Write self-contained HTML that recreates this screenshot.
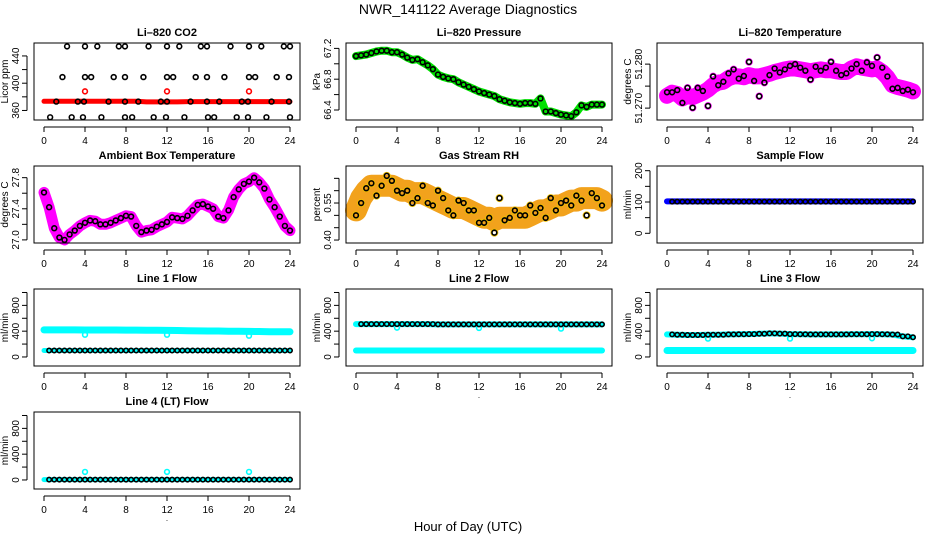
<!DOCTYPE html>
<html><head><meta charset="utf-8">
<style>
body{margin:0;background:#fff;}
svg{display:block;font-family:"Liberation Sans",sans-serif;}
</style></head>
<body>
<svg id="chart" width="936" height="540" viewBox="0 0 936 540" xmlns="http://www.w3.org/2000/svg">
<rect width="936" height="540" fill="#fff"/>
<text x="468" y="14" text-anchor="middle" font-size="14">NWR_141122  Average Diagnostics</text>
<text x="468" y="531" text-anchor="middle" font-size="13">Hour of Day (UTC)</text>
</svg>
<script>
const hours = [0,0.5,1,1.5,2,2.5,3,3.5,4,4.5,5,5.5,6,6.5,7,7.5,8,8.5,9,9.5,10,10.5,11,11.5,12,12.5,13,13.5,14,14.5,15,15.5,16,16.5,17,17.5,18,18.5,19,19.5,20,20.5,21,21.5,22,22.5,23,23.5,24];
const hourly = [0,1,2,3,4,5,6,7,8,9,10,11,12,13,14,15,16,17,18,19,20,21,22,23,24];
const xTicks = [0,4,8,12,16,20,24];

// CO2
const co2TopHours = [2.25,4.0,5.2,7.3,7.9,10.2,12.0,13.2,15.3,15.9,18.2,20.0,21.2,23.4,24.0];
const co2MidHours = [1.8,4.0,4.6,6.8,7.9,9.7,12.0,12.6,14.8,15.9,17.6,20.0,20.6,22.7,23.9];
const co2BandHours = [1.2,3.3,3.9,6.3,7.9,9.2,11.4,12.0,14.3,15.9,17.1,19.3,19.9,22.2,23.9];
const co2LowHours = [0.6,2.7,3.8,5.6,7.9,8.6,10.7,11.9,13.7,16.0,16.6,18.8,19.9,21.7,24.0];
const co2Levels = [454,409,373,350];
const co2RedBand = [373.5,373.5,373.5,373.5,373.5,373.5,373.5,373.5,373.5,373.5,372.5,372.5,372.5,372.5,373,373,373,373,373,373,373,373,373,373,373];
const co2RedHours = [4,12,20];
const co2RedValues = [388,388,388];

// Pressure
const pressure = [67.10,67.11,67.12,67.14,67.16,67.17,67.17,67.15,67.15,67.12,67.08,67.05,67.06,67.02,66.98,66.93,66.86,66.83,66.81,66.80,66.76,66.73,66.70,66.67,66.64,66.62,66.60,66.58,66.54,66.52,66.50,66.49,66.48,66.49,66.49,66.48,66.55,66.38,66.38,66.36,66.34,66.33,66.32,66.37,66.46,66.44,66.47,66.47,66.47];

// Li-820 temperature
const liTemp = [51.2736,51.2736,51.2741,51.2712,51.2746,51.2701,51.2746,51.2739,51.2705,51.2772,51.2752,51.2760,51.2779,51.2788,51.2767,51.2773,51.2805,51.2762,51.2727,51.2758,51.2775,51.2790,51.2781,51.2788,51.2796,51.2800,51.2792,51.2785,51.2765,51.2794,51.2785,51.2792,51.2805,51.2785,51.2775,51.2779,51.2790,51.2800,51.2785,51.2804,51.2796,51.2815,51.2792,51.2772,51.2744,51.2746,51.2739,51.2742,51.2736];
const liTempBand = [51.2728,51.2735,51.2732,51.2722,51.2728,51.2725,51.2730,51.2735,51.2742,51.2752,51.2758,51.2760,51.2768,51.2772,51.2772,51.2770,51.2775,51.2772,51.2772,51.2775,51.2778,51.2782,51.2785,51.2788,51.2790,51.2790,51.2788,51.2786,51.2784,51.2786,51.2788,51.2786,51.2786,51.2784,51.2782,51.2782,51.2790,51.2795,51.2792,51.2790,51.2788,51.2790,51.2782,51.2770,51.2752,51.2748,51.2745,51.2742,51.2738];

// Ambient box temperature
const ambient = [27.61,27.42,27.15,27.03,27.00,27.07,27.12,27.18,27.22,27.25,27.24,27.20,27.20,27.22,27.25,27.28,27.31,27.30,27.18,27.10,27.12,27.13,27.17,27.20,27.23,27.29,27.28,27.27,27.31,27.38,27.45,27.46,27.43,27.40,27.30,27.28,27.38,27.55,27.65,27.72,27.75,27.80,27.74,27.66,27.52,27.42,27.30,27.18,27.12];

// Gas stream RH
const rh = [0.50,0.55,0.61,0.63,0.58,0.62,0.66,0.64,0.60,0.59,0.60,0.55,0.57,0.62,0.55,0.54,0.60,0.57,0.52,0.50,0.56,0.55,0.52,0.52,0.47,0.47,0.49,0.43,0.57,0.48,0.49,0.52,0.50,0.50,0.54,0.51,0.53,0.49,0.57,0.52,0.55,0.56,0.54,0.58,0.56,0.50,0.59,0.57,0.54];
const rhBand = [0.52,0.57,0.60,0.62,0.62,0.62,0.62,0.62,0.61,0.60,0.60,0.59,0.59,0.59,0.58,0.57,0.56,0.55,0.54,0.53,0.53,0.53,0.52,0.51,0.50,0.49,0.49,0.48,0.49,0.49,0.49,0.49,0.49,0.49,0.50,0.51,0.52,0.52,0.53,0.54,0.54,0.55,0.56,0.56,0.57,0.57,0.57,0.57,0.56];

// Flows (hourly values)
const sampleBand = [102,102,102,102,102,102,102,102,102,102,102,102,102,102,102,102,102,102,102,102,102,102,102,102,102];
const sampleBlack = [101,101,101,101,101,101,101,101,101,101,101,101,101,101,101,101,101,101,101,101,101,101,101,101,101];
const line1Cyan = [420,420,420,420,418,418,418,418,416,416,414,414,412,410,408,405,403,402,400,398,397,395,392,390,390];
const line1Black = [100,100,100,100,100,100,100,100,100,100,100,100,100,100,100,100,100,100,100,100,100,100,100,100,100];
const line2Cyan = [510,510,510,510,510,510,510,510,505,505,505,505,505,505,505,505,505,505,505,505,505,505,505,505,505];
const line2Black = [510,510,510,510,510,510,510,510,505,505,505,505,505,505,505,505,505,505,505,505,505,505,505,505,505];
const line2Low = [100,100,100,100,100,100,100,100,100,100,100,100,100,100,100,100,100,100,100,100,100,100,100,100,100];
const line3Black = [350,345,340,340,345,345,350,352,355,360,365,362,355,352,350,350,350,350,352,352,355,352,348,320,305];
const line3Low = [100,100,100,100,100,100,100,100,100,100,100,100,100,100,100,100,100,100,100,100,100,100,100,100,100];
const line4Black = [5,5,5,5,5,5,5,5,5,5,5,5,5,5,5,5,5,5,5,5,5,5,5,5,5];
const dipHours = [4,12,20];
const line1Dips = [345,345,330];
const line2Dips = [455,450,440];
const line3Dips = [285,285,290];
const line4Dips = [125,125,125];

const svg = document.getElementById('chart');
const NS = 'http://www.w3.org/2000/svg';
const colL = [34,346,657], rowT = [43,166,289,412], W = 266, Hh = 77;

function mk(tag, attrs, parent){
  const e = document.createElementNS(NS, tag);
  for (const k in attrs) e.setAttribute(k, attrs[k]);
  (parent||svg).appendChild(e);
  return e;
}

function panel(name, title, ylab, col, row, dom, ticks, labels){
  const L = colL[col], T = rowT[row];
  const g = mk('g', {});
  
  
  const xs = h => L + 10 + h * 246 / 24;
  const ys = v => T + Hh - (v - dom[0]) / (dom[1] - dom[0]) * Hh;
  const t = mk('text', {x: L + W/2, y: T - 7, 'text-anchor':'middle', 'font-size':11, 'font-weight':'bold'}, g);
  t.textContent = title;
  
  
  const plot = mk('g', {}, g);
  
  
  const frame = mk('rect', {x:L, y:T, width:W, height:Hh, fill:'none', stroke:'#000', 'stroke-width':1}, g);
  
  
  const xa = mk('g', {}, g);
  
  
  mk('line', {x1:xs(0), x2:xs(24), y1:T+Hh+7, y2:T+Hh+7, stroke:'#000'}, xa);
  xTicks.forEach(h => {
    mk('line', {x1:xs(h), x2:xs(h), y1:T+Hh+7, y2:T+Hh+12, stroke:'#000'}, xa);
    const tl = mk('text', {x:xs(h), y:T+Hh+24, 'text-anchor':'middle', 'font-size':10}, xa);
    tl.textContent = h;
  });
  const dot = mk('text', {x:L+W/2, y:T+Hh+32, 'text-anchor':'middle', 'font-size':8}, xa);
  dot.textContent = '.';
  const ya = mk('g', {}, g);
  
  
  mk('line', {x1:L-7, x2:L-7, y1:ys(ticks[0]), y2:ys(ticks[ticks.length-1]), stroke:'#000'}, ya);
  ticks.forEach((v,i) => {
    mk('line', {x1:L-12, x2:L-7, y1:ys(v), y2:ys(v), stroke:'#000'}, ya);
    if (labels[i] !== '') {
      const tl = mk('text', {x:L-15, y:ys(v), 'text-anchor':'middle', 'font-size':10, transform:`rotate(-90 ${L-15} ${ys(v)})`}, ya);
      tl.textContent = labels[i];
    }
  });
  const yl = mk('text', {x:L-26, y:T+Hh/2, 'text-anchor':'middle', 'font-size':10, transform:`rotate(-90 ${L-26} ${T+Hh/2})`}, g);
  yl.textContent = ylab;
  
  
  return {xs, ys, plot};
}

function band(p, xsArr, vals, color, w, name){
  const pts = xsArr.map((h,i) => p.xs(h).toFixed(1) + ',' + p.ys(vals[i]).toFixed(1)).join(' ');
  const pl = mk('polyline', {points:pts, fill:'none', stroke:color, 'stroke-width':w, 'stroke-linecap':'round', 'stroke-linejoin':'round'}, p.plot);
  
  
}
function circles(p, xsArr, vals, color, name, r){
  const g = mk('g', {}, p.plot);
  
  
  xsArr.forEach((h,i) => {
    const c = mk('circle', {cx:p.xs(h), cy:p.ys(vals[i]), r:r||2.4, fill:'none', stroke:color, 'stroke-width':1.6}, g);
    
    
  });
}
const flowTicks = [0,200,400,600,800,1000], flowLabels = ['0','','400','','800',''];
const flowDom = [-140,1054];

let p = panel('co2', 'Li\u2013820 CO2', 'Licor ppm', 0, 0, [346,459], [360,380,400,420,440], ['360','','400','','440']);
band(p, hourly, co2RedBand, '#ff0000', 5, 'co2-red-band');
circles(p, co2RedHours, co2RedValues, '#ff0000', 'co2-red-points');
circles(p, co2TopHours, co2TopHours.map(()=>co2Levels[0]), '#000', 'co2-top-points');
circles(p, co2MidHours, co2MidHours.map(()=>co2Levels[1]), '#000', 'co2-mid-points');
circles(p, co2BandHours, co2BandHours.map(()=>co2Levels[2]), '#000', 'co2-band-points');
circles(p, co2LowHours, co2LowHours.map(()=>co2Levels[3]), '#000', 'co2-low-points');

p = panel('pressure', 'Li\u2013820 Pressure', 'kPa', 1, 0, [66.27,67.27], [66.4,66.6,66.8,67.0,67.2], ['66.4','','66.8','','67.2']);
band(p, hours, pressure, '#00e000', 8, 'pressure-band');
circles(p, hours, pressure, '#000', 'pressure-points');

p = panel('li820-temp', 'Li\u2013820 Temperature', 'degrees C', 2, 0, [51.2673,51.2848], [51.270,51.275,51.280], ['51.270','','51.280']);
band(p, hours, liTempBand, '#ff00ff', 16, 'li820-temp-band');
circles(p, hours, liTemp, '#ff00ff', 'li820-temp-magenta-points', 3);
circles(p, hours, liTemp, '#000', 'li820-temp-points');

p = panel('ambient', 'Ambient Box Temperature', 'degrees C', 0, 1, [26.96,27.95], [27.0,27.2,27.4,27.6,27.8], ['27.0','','27.4','','27.8']);
band(p, hours, ambient, '#ff00ff', 11, 'ambient-band');
circles(p, hours, ambient, '#000', 'ambient-points');

p = panel('rh', 'Gas Stream RH', 'percent', 1, 1, [0.388,0.70], [0.40,0.45,0.50,0.55,0.60,0.65], ['0.40','','','0.55','','']);
band(p, hours, rhBand, '#f2a21c', 22, 'rh-band');
circles(p, hours, rh, '#f0c000', 'rh-yellow-points', 3.2);
circles(p, hours, rh, '#000', 'rh-points');

p = panel('sample-flow', 'Sample Flow', 'ml/min', 2, 1, [-31,215], [0,50,100,150,200], ['0','','100','','200']);
band(p, hourly, sampleBand, '#0000ff', 6, 'sample-flow-band');
circles(p, hours.slice(1), hours.slice(1).map(h=>sampleBlack[Math.floor(h)]), '#000', 'sample-flow-points', 2.2);

p = panel('line1-flow', 'Line 1 Flow', 'ml/min', 0, 2, flowDom, flowTicks, flowLabels);
band(p, hourly, line1Cyan, '#00ffff', 7, 'line1-cyan-band');
band(p, hourly, line1Black, '#00ffff', 5, 'line1-cyan-low-band');
circles(p, dipHours, line1Dips, '#00ffff', 'line1-dips');
circles(p, hours.slice(1), hours.slice(1).map(h=>line1Black[Math.floor(h)]), '#000', 'line1-points', 2.2);

p = panel('line2-flow', 'Line 2 Flow', 'ml/min', 1, 2, flowDom, flowTicks, flowLabels);
band(p, hourly, line2Cyan, '#00ffff', 6, 'line2-cyan-band');
band(p, hourly, line2Low, '#00ffff', 6, 'line2-cyan-low-band');
circles(p, dipHours, line2Dips, '#00ffff', 'line2-dips');
circles(p, hours.slice(1), hours.slice(1).map(h=>line2Black[Math.floor(h)]), '#000', 'line2-points', 2.2);

p = panel('line3-flow', 'Line 3 Flow', 'ml/min', 2, 2, flowDom, flowTicks, flowLabels);
band(p, hourly, line3Black, '#00ffff', 6, 'line3-cyan-band');
band(p, hourly, line3Low, '#00ffff', 7, 'line3-cyan-low-band');
circles(p, dipHours, line3Dips, '#00ffff', 'line3-dips');
circles(p, hours.slice(1), hours.slice(1).map(h=>line3Black[Math.floor(h)]), '#000', 'line3-points', 2.2);

p = panel('line4-flow', 'Line 4 (LT) Flow', 'ml/min', 0, 3, flowDom, flowTicks, flowLabels);
band(p, hourly, line4Black, '#00ffff', 5, 'line4-cyan-band');
circles(p, dipHours, line4Dips, '#00ffff', 'line4-dips');
circles(p, hours.slice(1), hours.slice(1).map(h=>line4Black[Math.floor(h)]), '#000', 'line4-points', 2.2);
</script>
</body></html>
